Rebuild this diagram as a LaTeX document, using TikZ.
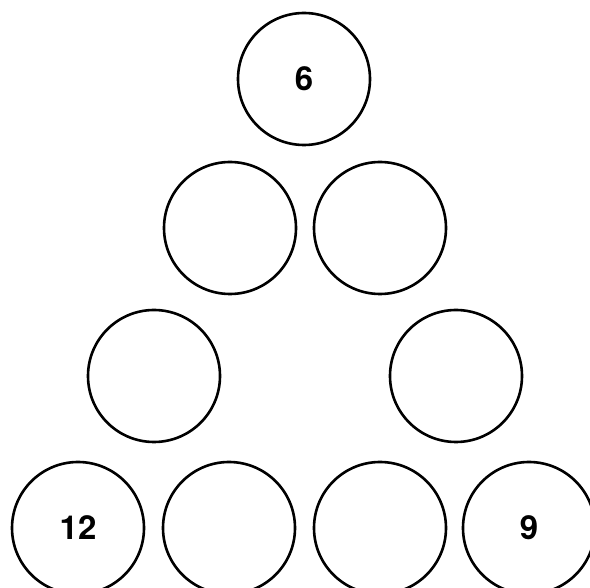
\documentclass[tikz,border=0pt]{standalone}
\usepackage{fontspec}
\setmainfont{TeX Gyre Heros}
\begin{document}
\begin{tikzpicture}[x=1pt,y=-1pt,
  ball/.style={circle,draw=black,line width=2.6pt,minimum size=132pt,inner sep=0pt,
    font=\fontsize{33}{33}\selectfont\bfseries}]
\useasboundingbox (0,0) rectangle (590,588);
\clip (0,0) rectangle (590,588);
\node[ball] (t) at (304,79) {6};
\node[ball] (b1) at (230,228) {};
\node[ball] (b2) at (380,228) {};
\node[ball] (c1) at (154,376) {};
\node[ball] (c2) at (456,376) {};
\node[ball] (d1) at (78,528) {12};
\node[ball] (d2) at (229,528) {};
\node[ball] (d3) at (380,528) {};
\node[ball] (d4) at (529,528) {9};
\end{tikzpicture}
\end{document}
